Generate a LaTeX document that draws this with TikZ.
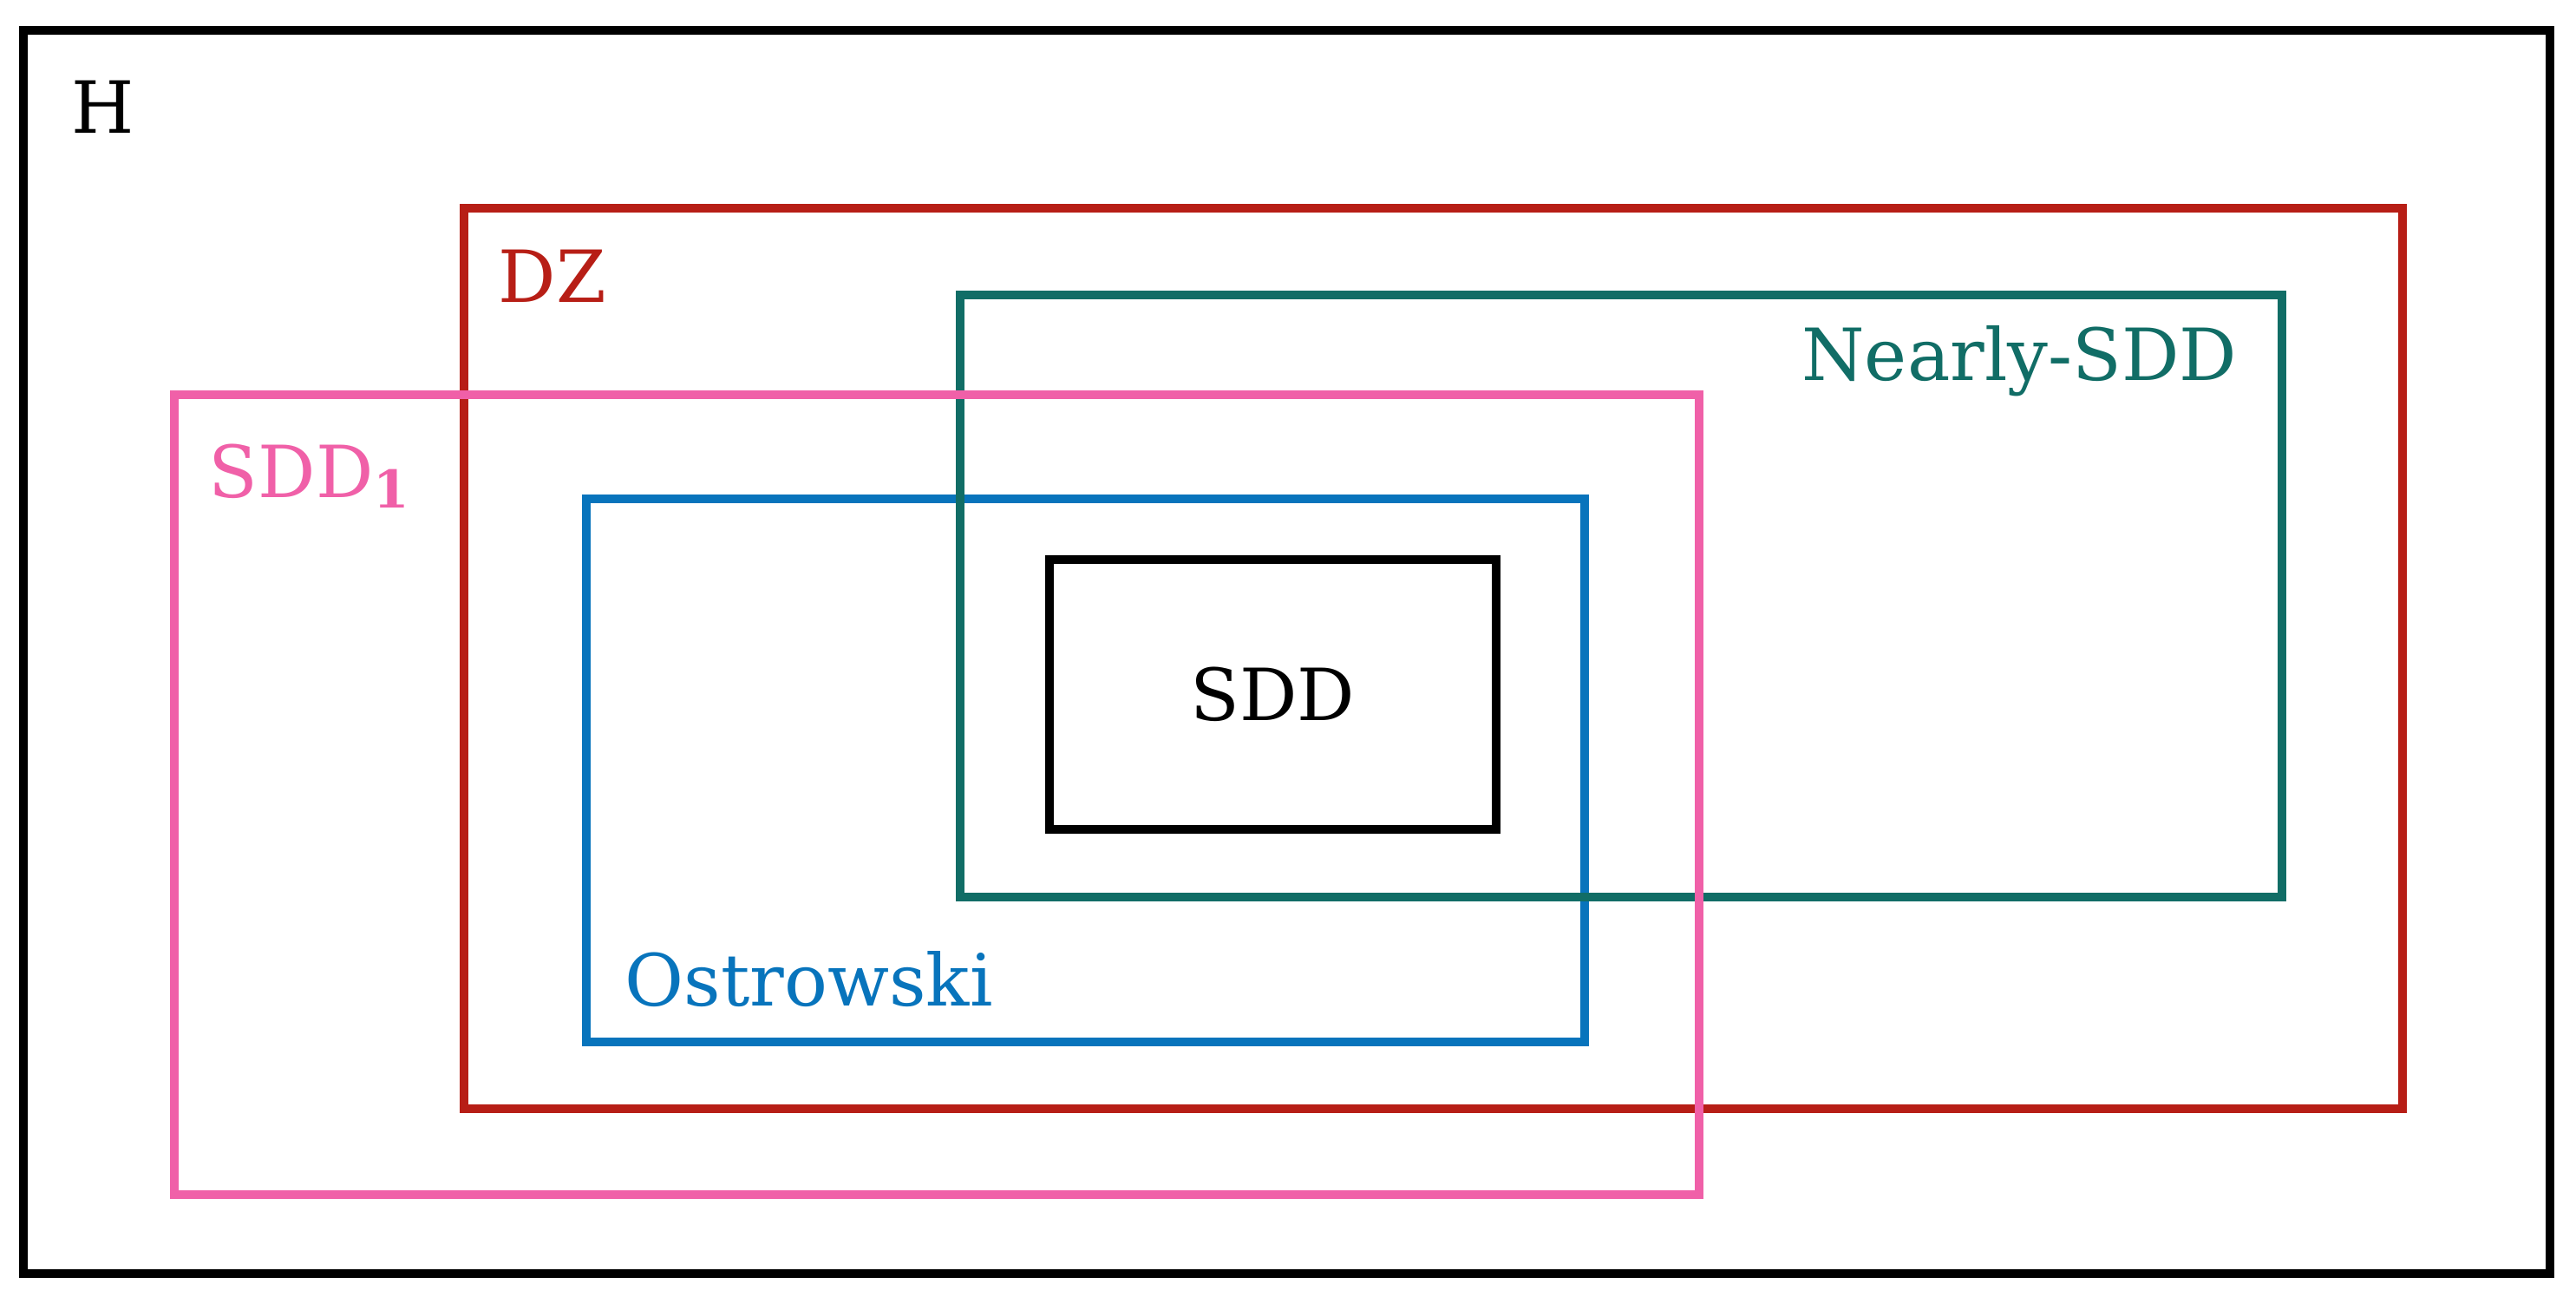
\documentclass[tikz,border=0pt]{standalone}
\usepackage{fontspec}
\setmainfont{DejaVu Serif}
\usepackage{tikz}
\usetikzlibrary{backgrounds}
\definecolor{dzred}{RGB}{183,30,22}
\definecolor{nearteal}{RGB}{17,109,102}
\definecolor{sddpink}{RGB}{240,96,168}
\definecolor{ostblue}{RGB}{8,116,188}

\begin{document}
\begin{tikzpicture}[
  setbox/.style={line width=2.6pt},
  lbl/.style={inner sep=0pt, font=\fontsize{23.6}{28}\selectfont}]
\useasboundingbox (0,0) rectangle (29.70,14.94);
% the classes, outer to inner
\draw[setbox,black] (0.27,0.26) rectangle (29.40,14.59);
\draw[setbox,dzred] (5.35,2.16) rectangle (27.70,12.54);
\draw[setbox,ostblue] (6.76,2.93) rectangle (18.27,9.19);
\draw[setbox,nearteal] (11.07,4.60) rectangle (26.31,11.54);
\draw[setbox,sddpink] (2.01,1.17) rectangle (19.59,10.39);
\draw[setbox,black] (12.10,5.38) rectangle (17.25,8.49);
% labels
\node[lbl,anchor=base west] (h) at (0.82,13.40) {H};
\node[lbl,anchor=base west,text=dzred] (dz) at (5.74,11.45) {DZ};
\node[lbl,anchor=base west,text=sddpink] (sddone) at (2.40,9.21) {SDD\raisebox{-0.3ex}{\fontsize{17}{20}\selectfont\bfseries 1}};
\node[lbl,anchor=base east,text=nearteal] (nearly) at (25.80,10.56) {Nearly-SDD};
\node[lbl,anchor=base west,text=ostblue] (ostr) at (7.20,3.35) {Ostrowski};
\node[lbl] (sdd) at (14.675,6.935) {SDD};
\end{tikzpicture}
\end{document}
